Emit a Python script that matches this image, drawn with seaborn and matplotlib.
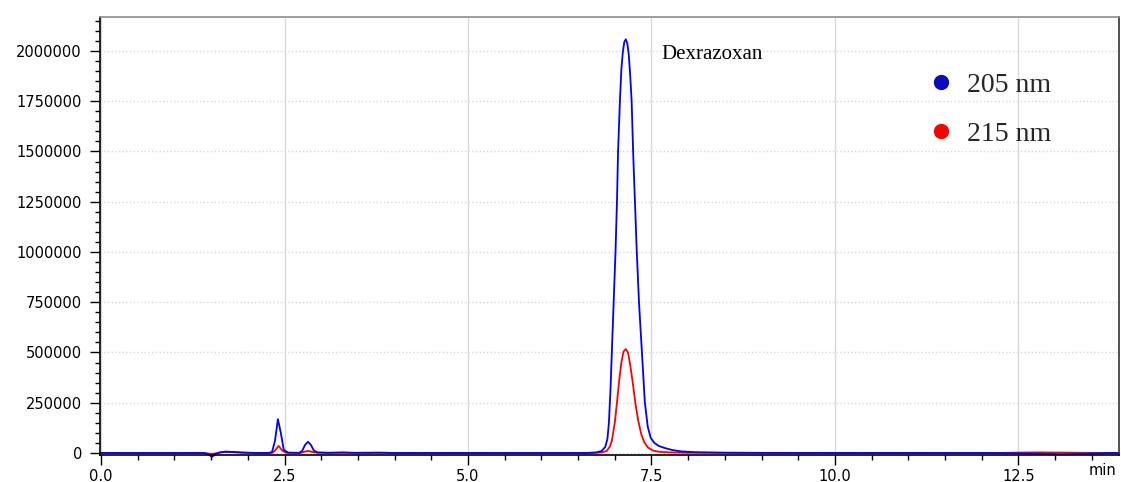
import matplotlib
matplotlib.use("Agg")
import matplotlib.pyplot as plt
from matplotlib.lines import Line2D
from matplotlib.ticker import MultipleLocator, FuncFormatter
import numpy as np
import pandas as pd
import seaborn as sns

# Retention time (min) and detector response for the 205 nm channel
time_205 = [0.00, 1.40, 1.46, 1.51, 1.56, 1.62, 1.70, 1.80, 1.95, 2.10, 2.28,
            2.33, 2.37, 2.41, 2.45, 2.49, 2.55, 2.70, 2.74, 2.78, 2.82, 2.86,
            2.90, 2.95, 3.10, 3.30, 3.45, 3.80, 4.00, 6.60, 6.75, 6.82, 6.87,
            6.90, 6.92, 6.94, 6.96, 6.985, 7.01, 7.03, 7.045, 7.07, 7.09,
            7.11, 7.13, 7.15, 7.17, 7.19, 7.21, 7.23, 7.25, 7.275, 7.30,
            7.33, 7.37, 7.41, 7.45, 7.49, 7.54, 7.60, 7.68, 7.78, 7.90, 8.10,
            8.50, 9.00, 10.00, 12.00, 12.40, 12.80, 13.10, 13.40, 13.70, 13.87]
signal_205 = [0, 0, -5000, -20000, -5000, 3000, 7000, 5000, 2000, 500, 0,
              5000, 60000, 168000, 100000, 15000, 2000, 1000, 10000, 40000,
              56000, 40000, 12000, 3000, 1000, 3000, 1000, 2000, 0, 0, 3000,
              10000, 30000, 70000, 150000, 300000, 500000, 750000, 1000000,
              1250000, 1500000, 1750000, 1910000, 1995000, 2045000, 2058000,
              2040000, 1985000, 1880000, 1750000, 1500000, 1250000, 1000000,
              750000, 500000, 250000, 130000, 75000, 50000, 35000, 25000,
              15000, 8000, 4000, 1500, 500, 0, 0, -1000, -4000, -6000, -4000,
              -1000, 0]

# Retention time (min) and detector response for the 215 nm channel
time_215 = [0.00, 1.40, 1.50, 1.56, 1.65, 1.75, 1.90, 2.10, 2.33, 2.37, 2.42,
            2.47, 2.52, 2.72, 2.76, 2.82, 2.88, 2.95, 3.50, 6.70, 6.82, 6.89,
            6.93, 6.96, 7.00, 7.03, 7.06, 7.09, 7.12, 7.15, 7.18, 7.21,
            7.245, 7.28, 7.32, 7.36, 7.40, 7.45, 7.52, 7.60, 7.75, 8.00,
            12.20, 12.50, 12.80, 13.10, 13.40, 13.87]
signal_215 = [0, 0, -5000, -2000, 4000, 5000, 2000, 0, 0, 12000, 35000,
              12000, 1000, 0, 5000, 11000, 5000, 1000, 500, 0, 3000, 10000,
              30000, 60000, 150000, 250000, 360000, 450000, 505000, 517000,
              500000, 440000, 350000, 250000, 160000, 95000, 55000, 28000,
              12000, 6000, 3000, 1000, 0, 2000, 3000, 2000, 1000, 0]

channels = ["205 nm", "215 nm"]
channel_colors = ["#0000FF", "#FF0000"]
marker_colors = ["#0A0ABE", "#FF0000"]
peak_label = "Dexrazoxan"

df = pd.concat([
    pd.DataFrame({"time": time_205, "signal": signal_205, "channel": channels[0]}),
    pd.DataFrame({"time": time_215, "signal": signal_215, "channel": channels[1]}),
], ignore_index=True)

sns.set_style("white")
plt.rcParams["font.family"] = ["DejaVu Sans"]

fig = plt.figure(figsize=(11.21, 4.82), dpi=100)
ax = fig.add_axes([0.0892, 0.056, 0.909, 0.9087])

# grid: solid vertical lines on major time ticks, dotted horizontal lines
ax.set_axisbelow(True)
ax.xaxis.grid(True, which="major", color="#d8d8d8", linestyle="-", linewidth=1.0)
ax.yaxis.grid(True, which="major", color="#d8d8d8", linestyle=":", linewidth=1.0)

# draw 215 nm first so the 205 nm trace sits on top along the baseline
for ch, col in zip(channels[::-1], channel_colors[::-1]):
    sns.lineplot(data=df[df["channel"] == ch], x="time", y="signal",
                 color=col, linewidth=1.3, estimator=None, sort=True,
                 ax=ax, legend=False, clip_on=False)

ax.set_xlim(-0.014, 13.87)
ax.set_ylim(-10000, 2169000)
ax.set_xlabel("")
ax.set_ylabel("")

ax.xaxis.set_major_locator(MultipleLocator(2.5))
ax.xaxis.set_minor_locator(MultipleLocator(0.5))
ax.yaxis.set_major_locator(MultipleLocator(250000))
ax.yaxis.set_minor_locator(MultipleLocator(50000))
ax.xaxis.set_major_formatter(FuncFormatter(lambda v, p: f"{v:.1f}"))
ax.yaxis.set_major_formatter(FuncFormatter(lambda v, p: f"{int(round(v))}"))

ax.tick_params(axis="both", which="major", direction="out", length=7,
               width=1.0, color="black", labelsize=10.5, labelcolor="black")
ax.tick_params(axis="both", which="minor", direction="out", length=3.5,
               width=1.0, color="black")
ax.tick_params(axis="y", which="both", left=True, right=False, pad=6)
ax.tick_params(axis="x", which="both", bottom=True, top=False, pad=3)

for side in ["left", "bottom"]:
    ax.spines[side].set_color("black")
    ax.spines[side].set_linewidth(1.2)
ax.spines["top"].set_color("#8c8c8c")
ax.spines["top"].set_linewidth(1.2)
ax.spines["right"].set_color("#333333")
ax.spines["right"].set_linewidth(1.2)

# x-axis unit placed at the end of the time axis
ax.annotate("min", xy=(13.65, 0), xycoords=("data", "axes fraction"),
            xytext=(0, -11), textcoords="offset points",
            ha="center", va="center", fontsize=10.5, color="black")

# peak annotation
ax.text(7.63, 1960000, peak_label, ha="left", va="baseline",
        fontsize=15, family=["Liberation Serif"], color="black")

handles = [Line2D([], [], linestyle="none", marker="o", markersize=10,
                  markerfacecolor=c, markeredgecolor=c) for c in marker_colors]
leg = ax.legend(handles, channels, loc="upper left",
                bbox_to_anchor=(0.798, 0.905), frameon=False,
                prop={"family": "Liberation Serif", "size": 20},
                handlelength=1.0, handletextpad=0.45, labelspacing=0.85,
                borderpad=0.0)

fig.savefig("out.png", dpi=100)
